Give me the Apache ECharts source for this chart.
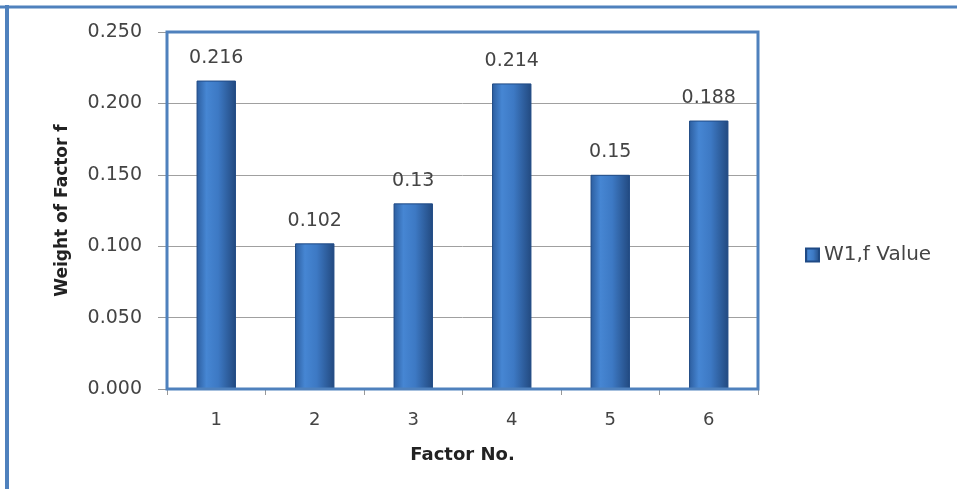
<!DOCTYPE html>
<html><head><meta charset="utf-8">
<script src="https://cdn.jsdelivr.net/npm/echarts@6/dist/echarts.min.js"></script>
<style>html,body{margin:0;padding:0;background:#fff}#c{width:957px;height:489px}</style>
</head><body><div id="c"></div>
<script>
const categories = ['1','2','3','4','5','6'];
const values = [0.216, 0.102, 0.13, 0.214, 0.15, 0.188];
const labels = ['0.216','0.102','0.13','0.214','0.15','0.188'];
const seriesName = 'W1,f Value';

const chart = echarts.init(document.getElementById('c'));
const font = '"DejaVu Sans", sans-serif';
const barGrad = new echarts.graphic.LinearGradient(0,0,1,0,[
  {offset:0,color:'#2c5d9e'},
  {offset:0.25,color:'#4686d3'},
  {offset:0.55,color:'#3d79c4'},
  {offset:1,color:'#22497f'}
]);
chart.setOption({
  animation:false,
  graphic:[
    {type:'line',shape:{x1:0,y1:7,x2:957,y2:7},style:{stroke:'#4f81bd',lineWidth:3},z:10},
    {type:'line',shape:{x1:7,y1:5,x2:7,y2:489},style:{stroke:'#4f81bd',lineWidth:4},z:10},
    {type:'rect',shape:{x:167,y:32,width:591,height:357},style:{fill:'none',stroke:'#4f81bd',lineWidth:3},z:10}
  ],
  grid:{left:167,top:32,right:199,bottom:100},
  legend:{
    data:[{name:seriesName,icon:'rect'}],
    orient:'vertical',left:800,top:240,itemWidth:13,itemHeight:13,itemGap:6,
    textStyle:{fontFamily:font,fontSize:20,color:'#444'}
  },
  xAxis:{
    type:'category',data:categories,
    name:'Factor No.',nameLocation:'middle',nameGap:57,
    nameTextStyle:{fontFamily:font,fontSize:18,fontWeight:'bold',color:'#222'},
    axisLine:{show:false},
    axisTick:{show:true,length:6,lineStyle:{color:'#999'}},
    axisLabel:{fontFamily:font,fontSize:18,color:'#444',margin:22}
  },
  yAxis:{
    type:'value',min:0,max:0.25,interval:0.05,
    name:'Weight of Factor f',nameLocation:'middle',nameGap:96,nameRotate:90,
    nameTextStyle:{fontFamily:font,fontSize:17,fontWeight:'bold',color:'#222'},
    axisLine:{show:false},
    axisTick:{show:true,length:9,lineStyle:{color:'#999'}},
    axisLabel:{fontFamily:font,fontSize:19,color:'#444',margin:25,formatter:v=>v.toFixed(3)},
    splitLine:{lineStyle:{color:'#a0a0a0',width:1}}
  },
  series:[{
    name:seriesName,type:'bar',data:values,barCategoryGap:'60%',
    itemStyle:{color:barGrad,borderColor:'#1f4a85',borderWidth:1},
    label:{show:true,position:'top',distance:13,fontFamily:font,fontSize:19,color:'#444',
      formatter:p=>labels[p.dataIndex]}
  }]
});
</script></body></html>
